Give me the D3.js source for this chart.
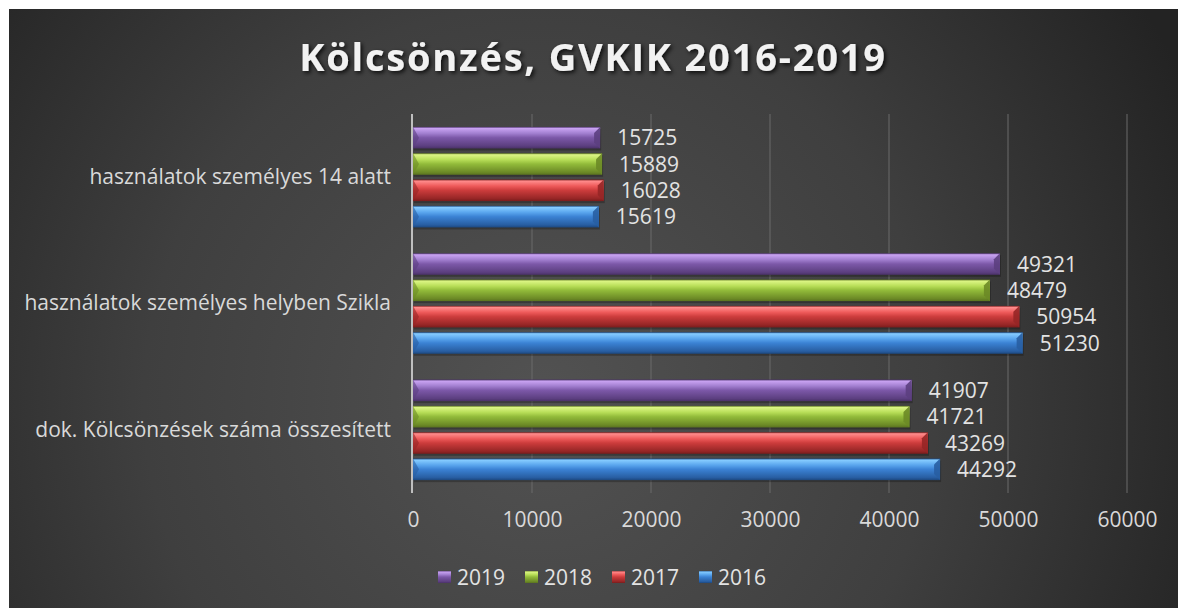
<!DOCTYPE html>
<html><head><meta charset="utf-8">
<script src="https://cdn.jsdelivr.net/npm/d3@7"></script>
<style>
html,body{margin:0;padding:0;background:#fff;}
svg{display:block;}
text{font-family:"Open Sans",sans-serif;}
</style></head>
<body>
<div id="chart"></div>
<script>
const categories = ["használatok személyes 14 alatt", "használatok személyes helyben Szikla", "dok. Kölcsönzések száma összesített"];
const seriesNames = ["2019", "2018", "2017", "2016"];
const values2019 = [15725, 49321, 41907];
const values2018 = [15889, 48479, 41721];
const values2017 = [16028, 50954, 43269];
const values2016 = [15619, 51230, 44292];
const xTicks = [0, 10000, 20000, 30000, 40000, 50000, 60000];
const title = "Kölcsönzés, GVKIK 2016-2019";

const seriesValues = {"2019": values2019, "2018": values2018, "2017": values2017, "2016": values2016};
const palette = {
  "2019": ["#4a3168", "#c9a3f2", "#a27fd0", "#7c58a8", "#5c3f80"],
  "2018": ["#5a7220", "#dcf585", "#b8de58", "#92bb3a", "#6c8a26"],
  "2017": ["#7a1c1c", "#ff8c8c", "#ee5a5a", "#cc3c3c", "#962626"],
  "2016": ["#1c4880", "#86ccff", "#5aa6ee", "#3b82d4", "#285ea2"]
};

const W = 1178, H = 608;
const svg = d3.select("#chart").append("svg").attr("width", W).attr("height", H);
const defs = svg.append("defs");

const bg = defs.append("radialGradient").attr("id", "bg").attr("gradientUnits", "userSpaceOnUse")
  .attr("cx", 540).attr("cy", 400).attr("r", 720);
bg.append("stop").attr("offset", 0).attr("stop-color", "#525252");
bg.append("stop").attr("offset", 0.55).attr("stop-color", "#3f3f3f");
bg.append("stop").attr("offset", 1).attr("stop-color", "#232323");

seriesNames.forEach(s => {
  const c = palette[s];
  const g = defs.append("linearGradient").attr("id", "g" + s).attr("x1", 0).attr("x2", 0).attr("y1", 0).attr("y2", 1);
  [[0, c[0]], [0.07, c[1]], [0.3, c[2]], [0.5, c[3]], [0.88, c[4]], [1, c[0]]].forEach(([o, col]) =>
    g.append("stop").attr("offset", o).attr("stop-color", col));
});

svg.append("rect").attr("x", 9).attr("y", 9).attr("width", W - 9).attr("height", H - 9).attr("fill", "url(#bg)");

// title
const filt = defs.append("filter").attr("id", "shadow").attr("x", "-10%").attr("y", "-30%").attr("width", "120%").attr("height", "160%");
filt.append("feDropShadow").attr("dx", 2).attr("dy", 2).attr("stdDeviation", 2).attr("flood-color", "#000").attr("flood-opacity", 0.8);
svg.append("text").attr("x", 593).attr("y", 71).attr("text-anchor", "middle")
  .attr("font-size", 38).attr("font-weight", 700).attr("letter-spacing", 1.8)
  .attr("fill", "#f2f2f2").attr("filter", "url(#shadow)").text(title);

const x = d3.scaleLinear().domain([0, 60000]).range([413, 1127]);
const y0 = d3.scaleBand().domain(categories).range([114, 493]).paddingInner(0.204).paddingOuter(0.102);
const y1 = d3.scaleBand().domain(seriesNames).range([0, y0.bandwidth()]).paddingInner(0.18);

// gridlines
svg.append("g").selectAll("line").data(xTicks.slice(1)).join("line")
  .attr("x1", d => x(d)).attr("x2", d => x(d)).attr("y1", 114).attr("y2", 493)
  .attr("stroke", "#6a6a6a").attr("stroke-width", 1);

// x axis labels
const xAxis = d3.axisBottom(x).tickValues(xTicks).tickSize(0).tickPadding(0).tickFormat(d3.format("d"));
const gx = svg.append("g").attr("transform", "translate(0,512)").call(xAxis);
gx.select(".domain").remove();
gx.selectAll("text").attr("font-family", "Open Sans").attr("font-size", 21).attr("fill", "#d9d9d9").attr("dy", "0.71em").attr("y", 0);

// category labels
const yAxis = d3.axisLeft(y0).tickSize(0).tickPadding(0);
const gy = svg.append("g").attr("transform", "translate(391,0)").call(yAxis);
gy.select(".domain").remove();
gy.selectAll("text").attr("font-family", "Open Sans").attr("font-size", 21).attr("fill", "#d9d9d9");

// bars
const groups = svg.append("g").selectAll("g").data(categories).join("g")
  .attr("transform", d => `translate(0,${y0(d)})`);
groups.each(function(cat, ci) {
  const g = d3.select(this);
  seriesNames.forEach(s => {
    const v = seriesValues[s][ci];
    const yy = y1(s), h = y1.bandwidth(), x0 = x(0), x1 = x(v);
    const c = palette[s];
    g.append("rect").attr("x", x0 + 1).attr("y", yy + 2).attr("width", x1 - x0).attr("height", h)
      .attr("fill", "#000").attr("opacity", 0.25);
    g.append("rect").attr("x", x0).attr("y", yy).attr("width", x1 - x0).attr("height", h).attr("fill", `url(#g${s})`);
    const b = 6;
    g.append("path").attr("d", `M${x1 - b},${yy + b} L${x1},${yy} L${x1},${yy + h} L${x1 - b},${yy + h - b} Z`)
      .attr("fill", c[4]).attr("opacity", 0.9);
    g.append("path").attr("d", `M${x0},${yy} L${x0 + b},${yy + h / 2} L${x0},${yy + h} Z`)
      .attr("fill", c[4]).attr("opacity", 0.6);
    g.append("text").attr("x", x1 + 17).attr("y", yy + h / 2).attr("dy", "0.36em")
      .attr("font-size", 21).attr("fill", "#e3e3e3").text(v);
  });
});

// axis line
svg.append("line").attr("x1", 412).attr("x2", 412).attr("y1", 114).attr("y2", 493)
  .attr("stroke", "#bfbfbf").attr("stroke-width", 2);

// legend
const lg = svg.append("g").selectAll("g").data(seriesNames).join("g")
  .attr("transform", (d, i) => `translate(${438 + i * 87},577)`);
lg.append("rect").attr("x", 0).attr("y", -6).attr("width", 13).attr("height", 12).attr("fill", d => `url(#g${d})`);
lg.append("text").attr("x", 19).attr("y", 0).attr("dy", "0.36em").attr("font-size", 21).attr("fill", "#e3e3e3").text(d => d);
</script>
</body></html>
